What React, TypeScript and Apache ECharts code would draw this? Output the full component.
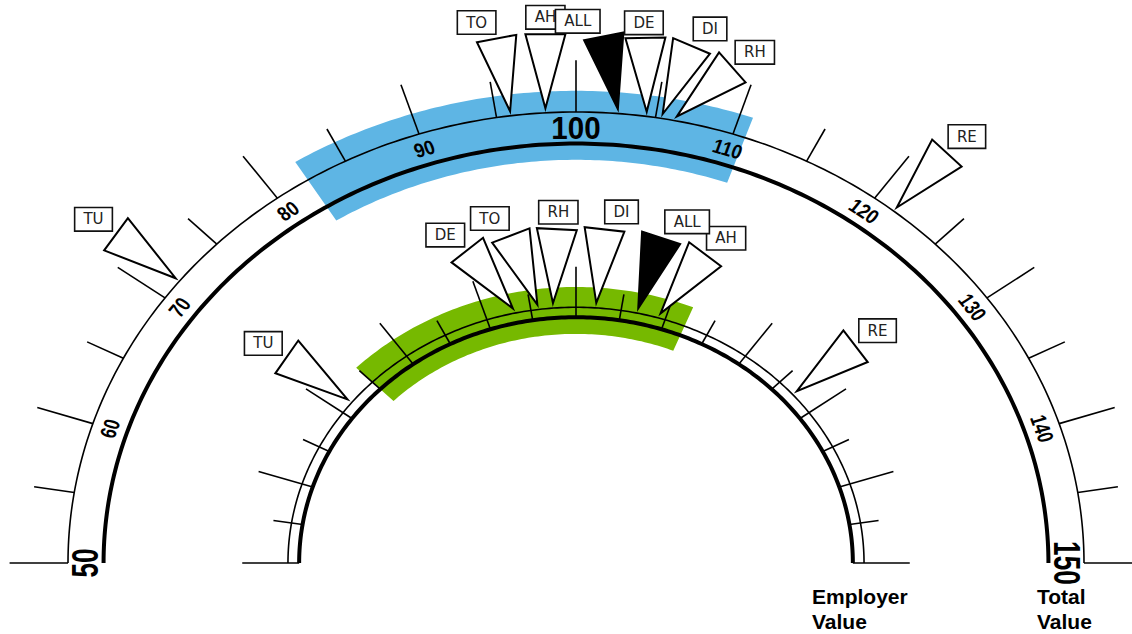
import { useEffect, useRef } from 'react';
import * as echarts from 'echarts';

// ---------- data ----------
const SCALE_MIN = 50;
const SCALE_MAX = 150;
const tickValues = [50, 55, 60, 65, 70, 75, 80, 85, 90, 95, 100, 105, 110, 115, 120, 125, 130, 135, 140, 145, 150];
const tickLabelValues = [50, 60, 70, 80, 90, 100, 110, 120, 130, 140, 150];
const tickLabels = ['50', '60', '70', '80', '90', '100', '110', '120', '130', '140', '150'];
const markerNames = ['TU', 'TO', 'AH', 'DE', 'DI', 'RH', 'RE', 'ALL'];
const totalValues = [71.5, 95.9, 98.1, 104.4, 105.4, 106.3, 121.5, 102.6];
const employerValues = [71.6, 95.8, 109.3, 93.1, 102.2, 97.5, 127.1, 106.8];
const totalRange = [82.3, 110.8];
const employerRange = [75, 112.3];
const gaugeTitles = ['Total\nValue', 'Employer\nValue'];

// ---------- layout / style ----------
const GAUGES = [
  {
    thin: 1.0, thick: 0.93, tickIn: 1.0, major: 1.115, minor: 1.08, tip: 1.01,
    bandIn: 0.894, bandOut: 1.047, labelR: 0.965, color: '#5EB5E4',
    lean: [-53.6, -10.5, 0, -1, 23, 48.5, 42.6, -11],
    boxOffset: [[-22.5, -15], [-20, -16], [0, -17], [-1.5, -15], [18.5, -17], [22.5, -15], [20, -16.5], [-26, -15]],
  },
  {
    thin: 0.567, thick: 0.545, tickIn: 0.545, major: 0.657, minor: 0.603, tip: 0.578,
    bandIn: 0.508, bandOut: 0.612, labelR: 0.556, color: '#76B900',
    lean: [-55, -21, 37, -38, 6.4, 3, 52.5, 18],
    boxOffset: [[-23.5, -13.5], [-21, -17], [21, -16], [-22, -15], [17, -17.5], [1.5, -17], [22, -15.5], [26, -16]],
  },
];
const TRI_LEN = 74;
const TRI_W = 40;
const X_STRETCH = 508 / 451;
const NARROW = 0.82;
const NUM_FONT = "'Liberation Sans', Arial, sans-serif";

const angleOf = (v: number) => (Math.PI * (SCALE_MAX - v)) / (SCALE_MAX - SCALE_MIN);
const toData = (v: number, r: number) => {
  const th = angleOf(v);
  return [r * Math.cos(th), r * Math.sin(th)];
};

export default function App() {
  const ref = useRef<HTMLDivElement>(null);
  useEffect(() => {
    if (!ref.current) return;
    const chart = echarts.init(ref.current, undefined, { renderer: 'svg' });

    const bandData = [
      [totalRange[0], totalRange[1], 0],
      [employerRange[0], employerRange[1], 1],
    ];
    const arcData = [
      [SCALE_MIN, SCALE_MAX, 0, 0],
      [SCALE_MIN, SCALE_MAX, 0, 1],
      [SCALE_MIN, SCALE_MAX, 1, 0],
      [SCALE_MIN, SCALE_MAX, 1, 1],
    ];
    const tickData: number[][] = [];
    tickValues.forEach((v) => {
      tickData.push([v, 0]);
      tickData.push([v, 1]);
    });
    const labelData = tickLabelValues.map((v, i) => [v, i]);
    const markerData = [
      ...totalValues.map((v, i) => [v, 0, i]),
      ...employerValues.map((v, i) => [v, 1, i]),
    ];

    const triGeom = (api: any) => {
      const v = api.value(0);
      const g = GAUGES[api.value(1)];
      const i = api.value(2);
      const tip = api.coord(toData(v, g.tip));
      const phi = (g.lean[i] * Math.PI) / 180;
      const bx = tip[0] + TRI_LEN * Math.sin(phi);
      const by = tip[1] - TRI_LEN * Math.cos(phi);
      const px = Math.cos(phi);
      const py = Math.sin(phi);
      return {
        tip,
        p1: [bx - (TRI_W / 2) * px, by - (TRI_W / 2) * py],
        p2: [bx + (TRI_W / 2) * px, by + (TRI_W / 2) * py],
        base: [bx, by],
        g,
        i,
      };
    };

    const option: any = {
      animation: false,
      grid: { left: 68, right: 48, top: 112, bottom: 71 },
      xAxis: { type: 'value', min: -1, max: 1, show: false },
      yAxis: { type: 'value', min: 0, max: 1, show: false },
      graphic: [
        {
          type: 'text', left: 1037, top: 584,
          style: { text: gaugeTitles[0], font: "bold 21px 'Liberation Sans', Arial, sans-serif", lineHeight: 25, fill: '#000' },
        },
        {
          type: 'text', left: 812, top: 584,
          style: { text: gaugeTitles[1], font: "bold 21px 'Liberation Sans', Arial, sans-serif", lineHeight: 25, fill: '#000' },
        },
      ],
      series: [
        {
          type: 'custom', z: 1, silent: true, data: bandData,
          renderItem: (params: any, api: any) => {
            const g = GAUGES[api.value(2)];
            const a = api.value(0);
            const b = api.value(1);
            const pts: number[][] = [];
            const n = 90;
            for (let k = 0; k <= n; k++) pts.push(api.coord(toData(a + ((b - a) * k) / n, g.bandOut)));
            for (let k = n; k >= 0; k--) pts.push(api.coord(toData(a + ((b - a) * k) / n, g.bandIn)));
            return { type: 'polygon', shape: { points: pts }, style: { fill: g.color } };
          },
        },
        {
          type: 'custom', z: 2, silent: true, data: arcData,
          renderItem: (params: any, api: any) => {
            const g = GAUGES[api.value(2)];
            const thick = api.value(3) === 1;
            const r = thick ? g.thick : g.thin;
            const a = api.value(0);
            const b = api.value(1);
            const pts: number[][] = [];
            const n = 240;
            for (let k = 0; k <= n; k++) pts.push(api.coord(toData(a + ((b - a) * k) / n, r)));
            return {
              type: 'polyline', shape: { points: pts },
              style: { stroke: '#000', lineWidth: thick ? 4 : 1.6, fill: null },
            };
          },
        },
        {
          type: 'custom', z: 3, silent: true, data: tickData,
          renderItem: (params: any, api: any) => {
            const v = api.value(0);
            const g = GAUGES[api.value(1)];
            const major = v % 10 === 0;
            const p0 = api.coord(toData(v, g.tickIn));
            const p1 = api.coord(toData(v, major ? g.major : g.minor));
            return {
              type: 'line', shape: { x1: p0[0], y1: p0[1], x2: p1[0], y2: p1[1] },
              style: { stroke: '#000', lineWidth: 1.6 },
            };
          },
        },
        {
          type: 'custom', z: 4, silent: true, data: labelData,
          renderItem: (params: any, api: any) => {
            const v = api.value(0);
            const idx = api.value(1);
            const g = GAUGES[0];
            const p = api.coord(toData(v, g.labelR));
            const big = v % 50 === 0;
            return {
              type: 'group', x: p[0], y: p[1], scaleX: X_STRETCH, scaleY: 1,
              children: [
                {
                  type: 'text', x: 0, y: 0, rotation: angleOf(v) - Math.PI / 2,
                  scaleX: NARROW, scaleY: 1,
                  style: {
                    text: tickLabels[idx], fill: '#000', fontWeight: 'bold',
                    fontSize: big ? 32 : 20, fontFamily: NUM_FONT,
                    align: 'center', verticalAlign: 'middle',
                  },
                },
              ],
            };
          },
        },
        {
          type: 'custom', z: 5, silent: true, data: markerData,
          renderItem: (params: any, api: any) => {
            const t = triGeom(api);
            const isAll = markerNames[t.i] === 'ALL';
            return {
              type: 'polygon', shape: { points: [t.tip, t.p1, t.p2] },
              style: { fill: isAll ? '#000' : '#fff', stroke: '#000', lineWidth: 2, lineJoin: 'miter' },
            };
          },
        },
        {
          type: 'custom', z: 6, silent: true, data: markerData,
          renderItem: (params: any, api: any) => {
            const t = triGeom(api);
            const off = t.g.boxOffset[t.i];
            return {
              type: 'text', x: t.base[0] + off[0], y: t.base[1] + off[1],
              style: {
                text: markerNames[t.i], fill: '#222', fontSize: 15, fontFamily: "'DejaVu Sans', sans-serif",
                align: 'center', verticalAlign: 'middle', lineHeight: 16,
                backgroundColor: '#fff', borderColor: '#111', borderWidth: 1.6, padding: [3, 8, 3, 8],
              },
            };
          },
        },
      ],
    };
    chart.setOption(option);
    return () => chart.dispose();
  }, []);
  return (
    <div
      ref={ref}
      style={{ position: 'fixed', left: 0, top: 0, width: 1132, height: 634, background: '#fff' }}
    />
  );
}
